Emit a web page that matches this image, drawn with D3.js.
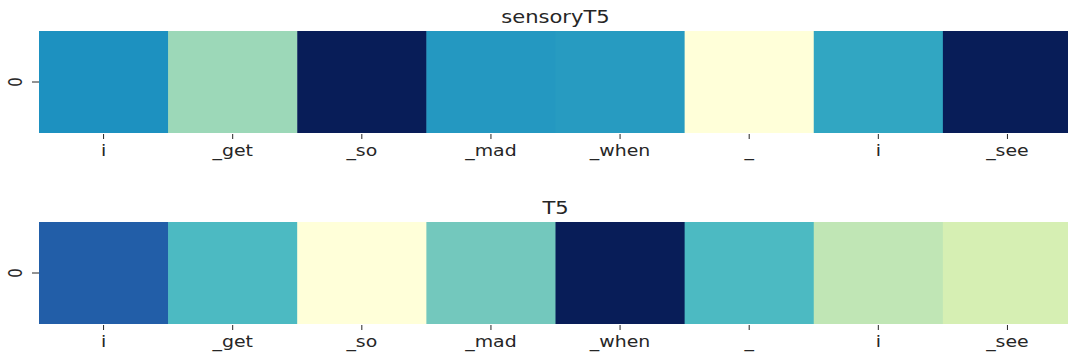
<!DOCTYPE html>
<html>
<head>
<meta charset="utf-8">
<script src="https://cdn.jsdelivr.net/npm/d3@7"></script>
<style>
  body { margin: 0; background: white; overflow: hidden; }
  text { font-family: "DejaVu Sans", sans-serif; fill: #262626; }
</style>
</head>
<body>
<svg id="chart" width="1068" height="356"></svg>
<script>
const TOKENS = ["i", "_get", "_so", "_mad", "_when", "_", "i", "_see"];
const ROWS = ["0"];
const TITLES = ["sensoryT5", "T5"];

// normalised attention values
const SENSORY_VALUES = [0.625, 0.325, 1.0, 0.60, 0.59, 0.0, 0.555, 1.0];
const T5_VALUES = [0.75, 0.478, 0.0, 0.40, 1.0, 0.478, 0.262, 0.20];

// matplotlib YlGnBu anchor colours (linear between them)
const YLGNBU = ["#ffffd9", "#edf8b1", "#c7e9b4", "#7fcdbb", "#41b6c4",
                "#1d91c0", "#225ea8", "#253494", "#081d58"];

// the original figure runs a few pixels past the right edge
const LEFT = 39, RIGHT = 1072;
const PANEL_TOP = 31, PANEL_H = 102, PANEL_STEP = 191;
const STRETCH = 1.26; // the picture is stretched sideways

var color = d3.scaleLinear()
    .domain(YLGNBU.map((c, i) => i / (YLGNBU.length - 1)))
    .range(YLGNBU);

var svg = d3.select("#chart");

function drawPanel(values, title, top){
    var g = svg.append("g");

    var x = d3.scaleBand().domain(d3.range(TOKENS.length)).range([LEFT, RIGHT]);
    var y = d3.scaleBand().domain(ROWS).range([top, top + PANEL_H]);

    g.selectAll("rect")
        .data(values)
        .enter()
        .append("rect")
        .attr("x", (d, i) => x(i))
        .attr("y", y("0"))
        .attr("width", x.bandwidth() + 0.5)
        .attr("height", y.bandwidth())
        .attr("fill", d => color(d));

    // x ticks
    var xt = g.selectAll(".xt")
        .data(TOKENS)
        .enter()
        .append("g")
        .attr("transform", (d, i) => `translate(${x(i) + x.bandwidth() / 2},${top + PANEL_H})`);
    xt.append("line")
        .attr("y1", 1).attr("y2", 6)
        .attr("stroke", "#262626").attr("stroke-width", 1);
    xt.append("text")
        .attr("transform", `translate(0,23) scale(${STRETCH},1)`)
        .attr("text-anchor", "middle")
        .attr("font-size", 15)
        .text(d => d);

    // y tick
    var yt = g.append("g")
        .attr("transform", `translate(${LEFT},${y("0") + y.bandwidth() / 2})`);
    yt.append("line")
        .attr("x1", -7).attr("x2", 0)
        .attr("stroke", "#262626").attr("stroke-width", 1);
    yt.append("text")
        .attr("transform", `translate(-17,0) scale(${STRETCH},1) rotate(-90)`)
        .attr("text-anchor", "middle")
        .attr("font-size", 15)
        .text(ROWS[0]);

    // title
    g.append("text")
        .attr("transform", `translate(${(LEFT + RIGHT) / 2},${top - 8}) scale(1.24,1)`)
        .attr("text-anchor", "middle")
        .attr("font-size", 17)
        .text(title);
}

drawPanel(SENSORY_VALUES, TITLES[0], PANEL_TOP);
drawPanel(T5_VALUES, TITLES[1], PANEL_TOP + PANEL_STEP);
</script>
</body>
</html>
